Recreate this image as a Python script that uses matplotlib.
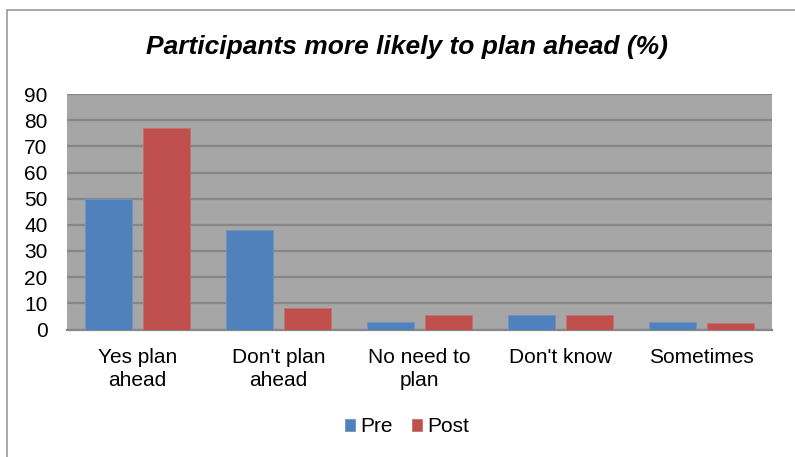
import matplotlib.pyplot as plt
import numpy as np
from matplotlib.patches import Rectangle

plt.rcParams['font.family'] = ['Liberation Sans', 'DejaVu Sans']

# Survey responses, percent of participants
categories = ["Yes plan\nahead", "Don't plan\nahead", "No need to\nplan", "Don't know", "Sometimes"]
pre = [50, 38, 2.8, 5.6, 2.8]
post = [77, 8.3, 5.6, 5.6, 2.6]
yticks = [0, 10, 20, 30, 40, 50, 60, 70, 80, 90]

fig = plt.figure(figsize=(7.95, 4.57), dpi=100)

# Light grey border around the whole chart
fig.patches.append(Rectangle((7 / 795, -0.1), 1.2, 1 - 10 / 457 + 0.1,
                             transform=fig.transFigure, fill=False,
                             edgecolor='#9a9a9a', linewidth=1.2))

ax = fig.add_axes([67 / 795, (457 - 329.5) / 457, 705 / 795, 235.5 / 457])
ax.set_facecolor('#a6a6a6')

x = np.arange(len(categories))
w = 0.335
ax.bar(x - 0.208, pre, w, color='#4f81bd', edgecolor='#6f95c6', linewidth=0.6, label='Pre', zorder=3)
ax.bar(x + 0.208, post, w, color='#c0504d', edgecolor='#c86f6c', linewidth=0.6, label='Post', zorder=3)

ax.set_xlim(-0.5, len(categories) - 0.5)
ax.set_ylim(0, 90)
ax.set_yticks(yticks)
ax.set_xticks(x)
ax.set_xticklabels(categories, fontsize=15, linespacing=1.3)
ax.tick_params(axis='both', length=0, labelsize=15)
ax.tick_params(axis='y', pad=14)
ax.tick_params(axis='x', pad=13)
ax.yaxis.grid(True, color='#878787', linewidth=1.6, zorder=1)
ax.set_axisbelow(True)
for side in ['top', 'right', 'left']:
    ax.spines[side].set_visible(False)
ax.spines['bottom'].set_color('#878787')
ax.spines['bottom'].set_linewidth(1.6)

fig.text(407 / 795, 1 - 47 / 457, 'Participants more likely to plan ahead (%)',
         ha='center', va='center', fontsize=19, fontweight='bold', fontstyle='italic')

fig.legend(loc='center', bbox_to_anchor=(407 / 795, 1 - 427 / 457), ncol=2, frameon=False,
           fontsize=15, handlelength=0.5, handleheight=0.5, handletextpad=0.25, columnspacing=0.9)

fig.savefig('out.png', dpi=100)
